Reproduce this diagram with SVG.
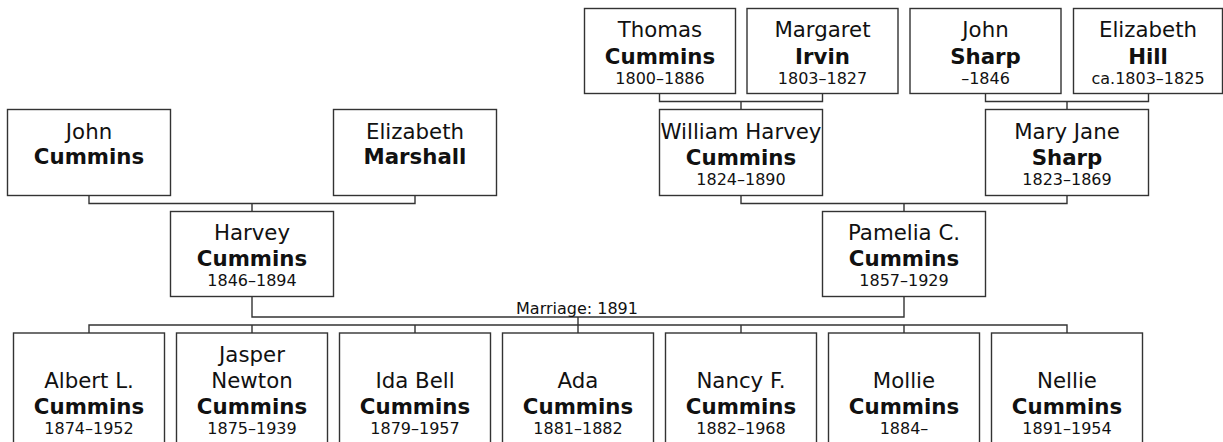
<svg xmlns="http://www.w3.org/2000/svg" width="1223" height="442" viewBox="0 0 1223 442">
<style>
rect.box{fill:#fff;stroke:#333;stroke-width:1.4}
.conn path{fill:none;stroke:#333;stroke-width:1.4}
text{font-family:"DejaVu Sans",Verdana,sans-serif;fill:#111;text-anchor:middle}
.n{font-size:21.3px}
.s{font-size:21.3px;font-weight:bold}
.d{font-size:16px}
.lbl{font-size:16px}
</style>
<rect width="1223" height="442" fill="#fff"/>
<g class="conn" id="connectors">
<path d="M659.5 93.5V101.5H822.5V93.5M741 101.5V109"/>
<path d="M985.5 93.5V101.5H1148.5V93.5M1067 101.5V109"/>
<path d="M89 196V203.5H415V196M252 203.5V211"/>
<path d="M741 196V203.5H1067V196M904 203.5V211"/>
<path d="M252 297V317H904V297M578 317V325"/>
<path d="M89 333V325H1067V333M252 325V333M415 325V333M578 325V333M741 325V333M904 325V333"/>
<text class="lbl" x="577" y="313.5">Marriage: 1891</text>
</g>
<g id="thomas"><rect class="box" x="584.5" y="8.5" width="151" height="85"/><text class="n" x="660" y="37">Thomas</text><text class="s" x="660" y="63.5">Cummins</text><text class="d" x="660" y="83.5">1800–1886</text></g>
<g id="margaret"><rect class="box" x="747" y="8.5" width="151" height="85"/><text class="n" x="822.5" y="37">Margaret</text><text class="s" x="822.5" y="63.5">Irvin</text><text class="d" x="822.5" y="83.5">1803–1827</text></g>
<g id="johnsharp"><rect class="box" x="910" y="8.5" width="151" height="85"/><text class="n" x="985.5" y="37">John</text><text class="s" x="985.5" y="63.5">Sharp</text><text class="d" x="985.5" y="83.5">–1846</text></g>
<g id="elizabethhill"><rect class="box" x="1073.5" y="8.5" width="149" height="85"/><text class="n" x="1148" y="37">Elizabeth</text><text class="s" x="1148" y="63.5">Hill</text><text class="d" x="1148" y="83.5">ca.1803–1825</text></g>
<g id="johncummins"><rect class="box" x="7.5" y="109.5" width="163" height="86"/><text class="n" x="89" y="139">John</text><text class="s" x="89" y="164">Cummins</text></g>
<g id="elizabethmarshall"><rect class="box" x="333.5" y="109.5" width="163" height="86"/><text class="n" x="415" y="139">Elizabeth</text><text class="s" x="415" y="164">Marshall</text></g>
<g id="william"><rect class="box" x="659.5" y="109.5" width="163" height="86"/><text class="n" x="741" y="138.5">William Harvey</text><text class="s" x="741" y="164.5">Cummins</text><text class="d" x="741" y="184.5">1824–1890</text></g>
<g id="maryjane"><rect class="box" x="985.5" y="109.5" width="163" height="86"/><text class="n" x="1067" y="138.5">Mary Jane</text><text class="s" x="1067" y="164.5">Sharp</text><text class="d" x="1067" y="184.5">1823–1869</text></g>
<g id="harvey"><rect class="box" x="170.5" y="211.5" width="163" height="85"/><text class="n" x="252" y="240">Harvey</text><text class="s" x="252" y="265.5">Cummins</text><text class="d" x="252" y="285.5">1846–1894</text></g>
<g id="pamelia"><rect class="box" x="822.5" y="211.5" width="163" height="85"/><text class="n" x="904" y="240">Pamelia C.</text><text class="s" x="904" y="265.5">Cummins</text><text class="d" x="904" y="285.5">1857–1929</text></g>
<g id="albert"><rect class="box" x="13.5" y="333" width="151" height="140"/><text class="n" x="89" y="388">Albert L.</text><text class="s" x="89" y="413.5">Cummins</text><text class="d" x="89" y="433.5">1874–1952</text></g>
<g id="jasper"><rect class="box" x="176.5" y="333" width="151" height="140"/><text class="n" x="252" y="362">Jasper</text><text class="n" x="252" y="388">Newton</text><text class="s" x="252" y="413.5">Cummins</text><text class="d" x="252" y="433.5">1875–1939</text></g>
<g id="ida"><rect class="box" x="339.5" y="333" width="151" height="140"/><text class="n" x="415" y="388">Ida Bell</text><text class="s" x="415" y="413.5">Cummins</text><text class="d" x="415" y="433.5">1879–1957</text></g>
<g id="ada"><rect class="box" x="502.5" y="333" width="151" height="140"/><text class="n" x="578" y="388">Ada</text><text class="s" x="578" y="413.5">Cummins</text><text class="d" x="578" y="433.5">1881–1882</text></g>
<g id="nancy"><rect class="box" x="665.5" y="333" width="151" height="140"/><text class="n" x="741" y="388">Nancy F.</text><text class="s" x="741" y="413.5">Cummins</text><text class="d" x="741" y="433.5">1882–1968</text></g>
<g id="mollie"><rect class="box" x="828.5" y="333" width="151" height="140"/><text class="n" x="904" y="388">Mollie</text><text class="s" x="904" y="413.5">Cummins</text><text class="d" x="904" y="433.5">1884–</text></g>
<g id="nellie"><rect class="box" x="991.5" y="333" width="151" height="140"/><text class="n" x="1067" y="388">Nellie</text><text class="s" x="1067" y="413.5">Cummins</text><text class="d" x="1067" y="433.5">1891–1954</text></g>
</svg>
